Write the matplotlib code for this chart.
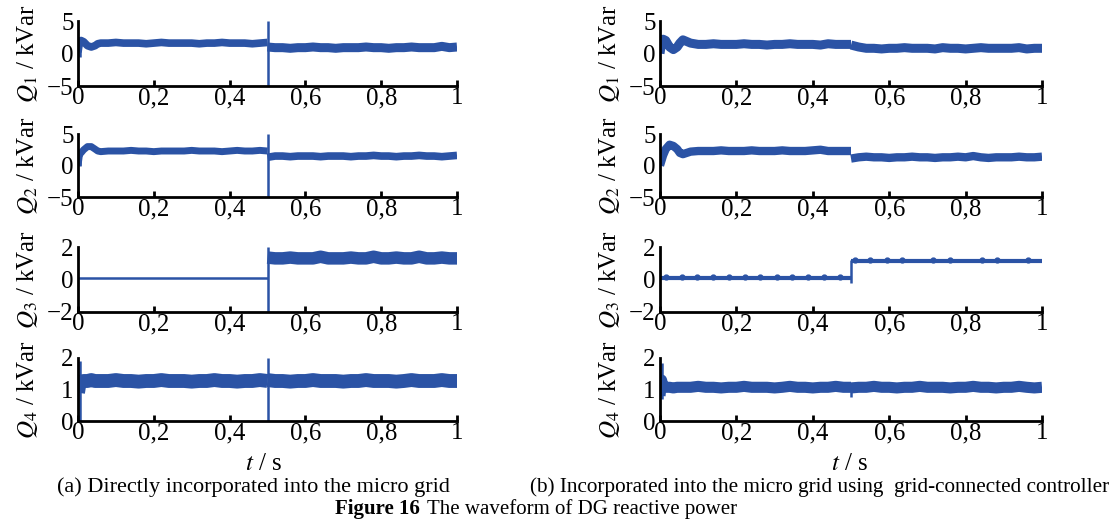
import numpy as np
import matplotlib
matplotlib.use('Agg')
from matplotlib import pyplot as plt

plt.rcParams['font.family'] = ['Liberation Serif', 'DejaVu Serif']
plt.rcParams['mathtext.fontset'] = 'stix'

blue = '#2b53a5'

# sample times shared by the curves
t_head = [0.0, 0.004, 0.008, 0.015, 0.025, 0.035, 0.045, 0.052]
t_pre = np.round(np.arange(0.06, 0.501, 0.02), 3)
t_post = np.round(np.arange(0.50, 1.001, 0.02), 3)

x_ticks = [0, 0.2, 0.4, 0.6, 0.8, 1]
x_ticklabels = ['0', '0,2', '0,4', '0,6', '0,8', '1']
y_lims = [(-5, 5), (-5, 5), (-2, 2), (0, 2)]
y_ticks = [[-5, 0, 5], [-5, 0, 5], [-2, 0, 2], [0, 1, 2]]
y_ticklabels = [['\u22125', '0', '5'], ['\u22125', '0', '5'], ['\u22122', '0', '2'], ['0', '1', '2']]
y_labels = [r'$Q_1$ / kVar', r'$Q_2$ / kVar', r'$Q_3$ / kVar', r'$Q_4$ / kVar']

# (a) directly incorporated
a1_head = [0.2, 1.8, 2.0, 1.8, 1.2, 1.0, 1.2, 1.5]
a1_pre = [1.6, 1.6, 1.7, 1.6, 1.6, 1.6, 1.5, 1.6, 1.7, 1.6, 1.6, 1.6, 1.6, 1.5, 1.6, 1.6, 1.7, 1.6, 1.6, 1.6, 1.5, 1.6, 1.7]
a1_post = [1.0, 0.9, 0.9, 0.8, 0.9, 0.9, 1.0, 0.9, 0.9, 0.8, 0.9, 0.9, 0.9, 1.0, 0.9, 0.9, 0.8, 0.9, 0.9, 1.0, 0.9, 0.9, 0.9, 1.1, 0.9, 1.0]
a1_spike_t, a1_spike_lo, a1_spike_hi = [0.004, 0.5], [-0.5, -5], [2.0, 5]

a2_head = [0.0, 1.8, 2.0, 2.5, 3.0, 3.0, 2.6, 2.3]
a2_pre = [2.2, 2.3, 2.3, 2.3, 2.4, 2.3, 2.3, 2.2, 2.3, 2.3, 2.3, 2.3, 2.4, 2.3, 2.3, 2.3, 2.2, 2.3, 2.4, 2.3, 2.3, 2.4, 2.3]
a2_post = [1.3, 1.5, 1.5, 1.4, 1.5, 1.5, 1.5, 1.4, 1.5, 1.5, 1.5, 1.4, 1.5, 1.5, 1.6, 1.5, 1.5, 1.4, 1.5, 1.5, 1.6, 1.5, 1.5, 1.4, 1.5, 1.6]
a2_spike_t, a2_spike_lo, a2_spike_hi = [0.004, 0.5], [0.0, -5], [2.2, 5]

a3_pre_t, a3_pre = [0.0, 0.5], [0.1, 0.1]
a3_post = [1.35, 1.3, 1.3, 1.35, 1.3, 1.3, 1.3, 1.4, 1.3, 1.3, 1.3, 1.35, 1.3, 1.3, 1.4, 1.3, 1.3, 1.35, 1.3, 1.3, 1.4, 1.3, 1.3, 1.35, 1.3, 1.3]
a3_spike_t, a3_spike_lo, a3_spike_hi = [0.5], [-2], [2]

a4_head = [0.9, 1.2, 1.25, 1.27, 1.27, 1.3, 1.27, 1.27]
a4_pre = [1.27, 1.27, 1.3, 1.27, 1.27, 1.25, 1.27, 1.27, 1.3, 1.27, 1.27, 1.27, 1.25, 1.27, 1.27, 1.3, 1.27, 1.27, 1.25, 1.27, 1.27, 1.3, 1.27]
a4_post = [1.3, 1.27, 1.27, 1.25, 1.27, 1.27, 1.3, 1.27, 1.27, 1.27, 1.25, 1.27, 1.27, 1.3, 1.27, 1.27, 1.27, 1.25, 1.27, 1.3, 1.27, 1.27, 1.27, 1.3, 1.27, 1.27]
a4_spike_t, a4_spike_lo, a4_spike_hi = [0.006, 0.5], [0, 0], [1.9, 2]

# (b) with grid-connected controller
b1_head = [0.0, 1.6, 2.2, 2.0, 1.0, 0.6, 1.0, 1.6]
b1_pre = [2.1, 1.6, 1.4, 1.4, 1.5, 1.4, 1.4, 1.4, 1.5, 1.4, 1.4, 1.3, 1.4, 1.4, 1.5, 1.4, 1.4, 1.4, 1.3, 1.5, 1.4, 1.4, 1.4]
b1_post = [1.3, 1.0, 0.8, 0.8, 0.7, 0.8, 0.8, 0.9, 0.8, 0.8, 0.8, 0.7, 0.9, 0.8, 0.8, 0.7, 0.8, 0.9, 0.8, 0.8, 0.8, 0.8, 0.9, 0.7, 0.8, 0.8]

b2_head = [0.0, 0.8, 1.6, 2.6, 3.3, 3.1, 2.6, 2.0]
b2_pre = [1.8, 2.2, 2.3, 2.3, 2.3, 2.4, 2.3, 2.3, 2.3, 2.4, 2.3, 2.3, 2.3, 2.4, 2.3, 2.3, 2.3, 2.4, 2.5, 2.3, 2.3, 2.3, 2.3]
b2_post = [1.1, 1.3, 1.4, 1.3, 1.3, 1.2, 1.3, 1.3, 1.4, 1.3, 1.3, 1.2, 1.3, 1.3, 1.4, 1.3, 1.5, 1.3, 1.2, 1.3, 1.3, 1.3, 1.4, 1.3, 1.3, 1.4]

b3_pre_t, b3_pre = [0.0, 0.5], [0.1, 0.1]
b3_post_t, b3_post = [0.5, 1.0], [1.15, 1.15]
b3_spike_t, b3_spike_lo, b3_spike_hi = [0.5], [-0.2], [1.2]
# small ripples riding on the Q3 line
b3_bump_t = [0.016, 0.058, 0.097, 0.139, 0.181, 0.223, 0.262, 0.306, 0.346, 0.387, 0.429, 0.471,
             0.51, 0.55, 0.594, 0.633, 0.715, 0.759, 0.843, 0.882, 0.963]
b3_bump_q = [0.17, 0.17, 0.17, 0.17, 0.17, 0.17, 0.17, 0.17, 0.17, 0.17, 0.17, 0.17,
             1.22, 1.22, 1.22, 1.22, 1.22, 1.22, 1.22, 1.22, 1.22]

b4_head = [0.8, 1.3, 1.1, 1.07, 1.07, 1.05, 1.07, 1.07]
b4_pre = [1.07, 1.07, 1.1, 1.07, 1.07, 1.05, 1.07, 1.07, 1.1, 1.07, 1.07, 1.07, 1.05, 1.07, 1.1, 1.07, 1.07, 1.05, 1.07, 1.07, 1.1, 1.07, 1.07]
b4_post = [1.05, 1.07, 1.07, 1.1, 1.07, 1.07, 1.05, 1.07, 1.07, 1.1, 1.07, 1.07, 1.07, 1.05, 1.07, 1.07, 1.1, 1.07, 1.07, 1.05, 1.07, 1.07, 1.1, 1.07, 1.05, 1.07]
b4_spike_t, b4_spike_lo, b4_spike_hi = [0.005, 0.5], [0.7, 0.75], [1.85, 1.1]

pre_t = np.concatenate([t_head, t_pre])


def draw(ax, pt, pq, qt, qq, lw1, lw2, st=(), slo=(), shi=()):
    ax.plot(pt, pq, color=blue, lw=lw1, solid_joinstyle='round', solid_capstyle='butt')
    ax.plot(qt, qq, color=blue, lw=lw2, solid_joinstyle='round', solid_capstyle='butt')
    if len(st):
        ax.vlines(st, slo, shi, color=blue, lw=1.8)


fig = plt.figure(figsize=(11.12, 5.22), dpi=100)
lefts = [78 / 1112, 660 / 1112]
widths = [379 / 1112, 382 / 1112]
rows = [(21, 86), (134, 197), (247, 312), (358, 421)]
axes = {}
for c in range(2):
    for r in range(4):
        top, bot = rows[r]
        ax = fig.add_axes([lefts[c], 1 - bot / 522, widths[c], (bot - top) / 522])
        ax.set_xlim(0, 1)
        ax.set_ylim(*y_lims[r])
        ax.spines['top'].set_visible(False)
        ax.spines['right'].set_visible(False)
        ax.spines['left'].set_linewidth(2)
        ax.spines['bottom'].set_linewidth(2)
        ax.set_xticks(x_ticks)
        ax.set_xticklabels(x_ticklabels, fontsize=18)
        ax.set_yticks(y_ticks[r])
        ax.set_yticklabels(y_ticklabels[r], fontsize=18)
        ax.tick_params(axis='x', direction='in', length=4, width=2, pad=1)
        ax.tick_params(axis='y', length=0, pad=3)
        ax.set_ylabel(y_labels[r], fontsize=18)
        ax.yaxis.set_label_coords(-0.1, 0.5)
        axes[c, r] = ax

draw(axes[0, 0], pre_t, a1_head + a1_pre, t_post, a1_post, 5.5, 6.5, a1_spike_t, a1_spike_lo, a1_spike_hi)
draw(axes[0, 1], pre_t, a2_head + a2_pre, t_post, a2_post, 5, 5.5, a2_spike_t, a2_spike_lo, a2_spike_hi)
draw(axes[0, 2], a3_pre_t, a3_pre, t_post, a3_post, 1.8, 9, a3_spike_t, a3_spike_lo, a3_spike_hi)
draw(axes[0, 3], pre_t, a4_head + a4_pre, t_post, a4_post, 10, 10, a4_spike_t, a4_spike_lo, a4_spike_hi)
draw(axes[1, 0], pre_t, b1_head + b1_pre, t_post, b1_post, 6.5, 6.5)
draw(axes[1, 1], pre_t, b2_head + b2_pre, t_post, b2_post, 6, 6)
draw(axes[1, 2], b3_pre_t, b3_pre, b3_post_t, b3_post, 3, 3, b3_spike_t, b3_spike_lo, b3_spike_hi)
axes[1, 2].plot(b3_bump_t, b3_bump_q, 'o', color=blue, ms=3.5)
draw(axes[1, 3], pre_t, b4_head + b4_pre, t_post, b4_post, 8, 8, b4_spike_t, b4_spike_lo, b4_spike_hi)

fig.text(264 / 1112, 1 - 464 / 522, r'$t$ / s', fontsize=18, ha='center', va='center')
fig.text(850 / 1112, 1 - 464 / 522, r'$t$ / s', fontsize=18, ha='center', va='center')
fig.text(253 / 1112, 1 - 487 / 522, '(a) Directly incorporated into the micro grid', fontsize=16, ha='center', va='center')
fig.text(820 / 1112, 1 - 487 / 522, '(b) Incorporated into the micro grid using  grid-connected controller', fontsize=15.3, ha='center', va='center')
fig.text(335 / 1112, 1 - 509 / 522, 'Figure 16', fontsize=15, fontweight='bold', ha='left', va='center')
fig.text(427 / 1112, 1 - 509 / 522, 'The waveform of DG reactive power', fontsize=15, ha='left', va='center')

fig.savefig('out.png', dpi=100)
